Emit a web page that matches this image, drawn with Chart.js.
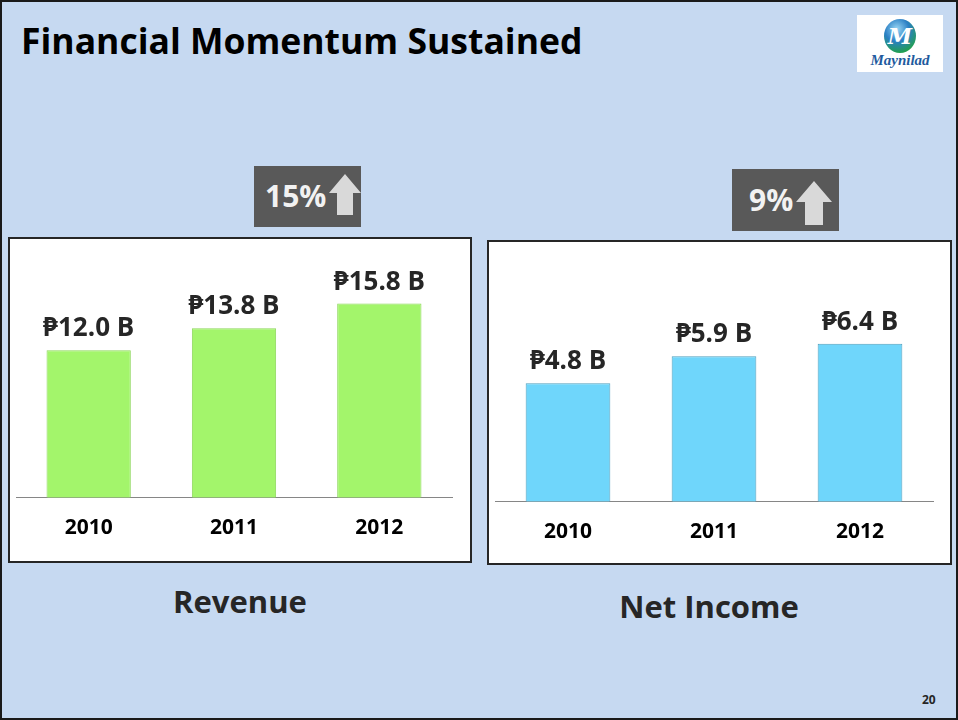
<!DOCTYPE html>
<html>
<head>
<meta charset="utf-8">
<script src="https://cdn.jsdelivr.net/npm/chart.js@4.4.0/dist/chart.umd.min.js"></script>
<style>
    html, body { margin: 0; padding: 0; }
    body {
        width: 958px; height: 720px; position: relative; overflow: hidden;
        background: #c6d9f1;
        font-family: 'Open Sans', 'Noto Sans', sans-serif;
    }
    .frame {
        position: absolute; left: 0; top: 0; width: 954px; height: 716px;
        border: 2px solid #1a1a1a;
    }
    .title {
        position: absolute; left: 21px; top: 16px;
        font-size: 35.5px; font-weight: bold; color: #000; white-space: nowrap;
    }
    .logo {
        position: absolute; left: 857px; top: 15px; width: 86px; height: 57px;
        background: #fff;
    }
    .logo .globe {
        position: absolute; left: 27px; top: 4px; width: 32px; height: 34px; border-radius: 50%;
        background: radial-gradient(circle at 40% 30%, #9ad8f5 0%, #2a7fc4 40%, #22a04e 78%, #0e6e2e 100%);
        color: #fff; font: italic bold 22px 'DejaVu Serif', serif; text-align: center; line-height: 34px;
    }
    .logo .name {
        position: absolute; left: 0; top: 37px; width: 86px; text-align: center;
        font: italic bold 15px 'Liberation Serif', 'DejaVu Serif', serif; color: #1f5b9e;
    }
    .panel {
        position: absolute; background: #fff; border: 2px solid #262626;
    }
    .panel canvas { position: absolute; left: 0; top: 0; }
    .badge {
        position: absolute; background: #595959; color: #f2f2f2;
        font-size: 30px; font-weight: bold; white-space: nowrap;
    }
    .badge span { position: absolute; }
    .badge svg { position: absolute; }
    .caption {
        position: absolute; font-size: 31px; font-weight: bold; color: #262626;
        text-align: center; width: 300px;
    }
    .page {
        position: absolute; left: 922px; top: 691px; font-size: 12px; font-weight: bold; color: #262626;
    }
</style>
</head>
<body>
<div class="frame"></div>
<div class="title">Financial Momentum Sustained</div>
<div class="logo"><div class="globe">M</div><div class="name">Maynilad</div></div>

<div class="badge" style="left:254px; top:166px; width:107px; height:61px;">
    <span style="left:11px; top:9px;">15%</span>
    <svg style="left:75px; top:8px;" width="32" height="41" viewBox="0 0 32 41">
        <polygon points="16,0 32,19 24,19 24,41 8,41 8,19 0,19" fill="#d9d9d9"/>
    </svg>
</div>
<div class="badge" style="left:732px; top:169px; width:107px; height:62px;">
    <span style="left:17px; top:10px;">9%</span>
    <svg style="left:64px; top:12px;" width="36" height="44" viewBox="0 0 36 44">
        <polygon points="18,0 36,21 27,21 27,44 9,44 9,21 0,21" fill="#d9d9d9"/>
    </svg>
</div>

<div class="panel" style="left:8px; top:237px; width:460px; height:322px;">
    <canvas id="revenueChart" width="460" height="322"></canvas>
</div>
<div class="panel" style="left:487px; top:240px; width:461px; height:321px;">
    <canvas id="incomeChart" width="461" height="321"></canvas>
</div>

<div class="caption" style="left:90px; top:580px;">Revenue</div>
<div class="caption" style="left:559px; top:585px;">Net Income</div>
<div class="page">20</div>

<script>
// Chart data
const years = ['2010', '2011', '2012'];
const revenue = [12.0, 13.8, 15.8];
const netIncome = [4.8, 5.9, 6.4];

const FONT = '"Open Sans", "Noto Sans", sans-serif';

// draws "₱12.0 B" above each bar
const valueLabels = {
    id: 'valueLabels',
    afterDatasetsDraw(chart) {
        const ctx = chart.ctx;
        const meta = chart.getDatasetMeta(0);
        const values = chart.data.datasets[0].data;
        ctx.save();
        ctx.font = 'bold 26px ' + FONT;
        ctx.fillStyle = '#262626';
        ctx.textAlign = 'center';
        ctx.textBaseline = 'alphabetic';
        meta.data.forEach(function(bar, i) {
            ctx.fillText('\u20B1' + values[i].toFixed(1) + ' B', bar.x, bar.y - 14);
        });
        ctx.restore();
    }
};

// soft bevel look: lighter strip on top of each bar
function barFill(light, base) {
    return function(context) {
        const bar = context.element;
        if (!bar || bar.y === undefined) return base;
        const g = context.chart.ctx.createLinearGradient(0, bar.y, 0, bar.y + 8);
        g.addColorStop(0, light);
        g.addColorStop(1, base);
        return g;
    };
}

function makeBarChart(canvasId, values, fill, border, yMax, padding) {
    const canvas = document.getElementById(canvasId);
    if (!canvas) return;
    new Chart(canvas.getContext('2d'), {
        type: 'bar',
        data: {
            labels: years,
            datasets: [{
                data: values,
                backgroundColor: fill,
                borderColor: border,
                borderWidth: 1,
                barPercentage: 0.58,
                categoryPercentage: 1.0
            }]
        },
        options: {
            responsive: false,
            animation: false,
            layout: { padding: padding },
            plugins: {
                legend: { display: false },
                tooltip: { enabled: false }
            },
            scales: {
                x: {
                    grid: { display: false, drawTicks: false },
                    border: { display: true, color: '#868686', width: 1 },
                    ticks: {
                        padding: 18,
                        color: '#000',
                        font: { family: FONT, size: 21, weight: 'bold' }
                    }
                },
                y: {
                    display: false,
                    min: 0,
                    max: yMax
                }
            }
        },
        plugins: [valueLabels]
    });
}

makeBarChart('revenueChart', revenue, barFill('#c4fb9c', '#a3f56b'), '#8cd65a', 20,
    { left: 6, right: 18, top: 13, bottom: 2 });
makeBarChart('incomeChart', netIncome, barFill('#a6e6fd', '#6fd6fb'), '#4f9fbd', 10,
    { left: 6, right: 17, top: 13, bottom: 0 });
</script>
</body>
</html>
